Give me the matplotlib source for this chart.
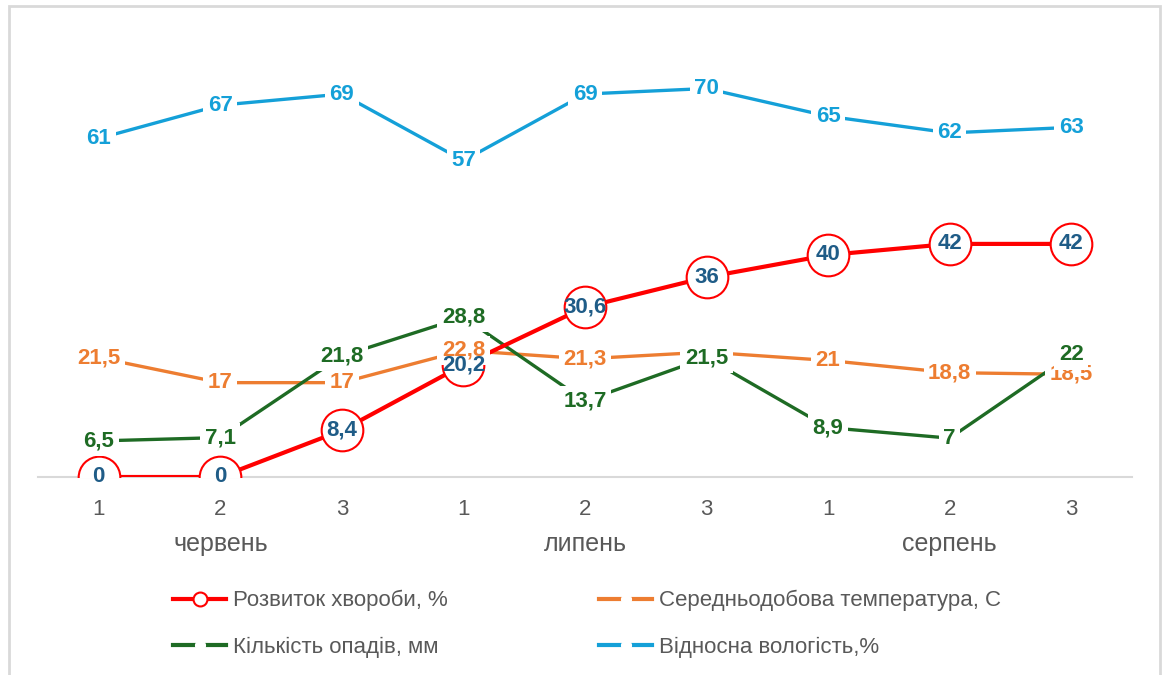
import matplotlib
matplotlib.use("Agg")
import matplotlib.pyplot as plt
from matplotlib.lines import Line2D
from matplotlib.patches import Rectangle

months = ["червень", "липень", "серпень"]
decades = ["1", "2", "3", "1", "2", "3", "1", "2", "3"]

disease = [0, 0, 8.4, 20.2, 30.6, 36, 40, 42, 42]
temperature = [21.5, 17, 17, 22.8, 21.3, 22.5, 21, 18.8, 18.5]
precipitation = [6.5, 7.1, 21.8, 28.8, 13.7, 21.5, 8.9, 7, 22]
humidity = [61, 67, 69, 57, 69, 70, 65, 62, 63]

names = [
    "Розвиток хвороби, %",
    "Середньодобова температура, С",
    "Кількість опадів, мм",
    "Відносна вологість,%",
]

RED = "#FF0000"
ORANGE = "#ED7D31"
GREEN = "#1E6B24"
BLUE = "#14A0D8"
LABEL_BLUE = "#1F5C87"
GRAY = "#595959"
LIGHT = "#D9D9D9"

plt.rcParams["font.family"] = ["Liberation Sans", "DejaVu Sans"]


def fmt(v):
    return f"{v:g}".replace(".", ",")


fig = plt.figure(figsize=(11.62, 6.75), dpi=100)
ax = fig.add_axes([38 / 1162, 198 / 675, 1094 / 1162, 444 / 675])

fig.patches.append(Rectangle((8.5 / 1162, -0.1), 1151 / 1162, 1.1 - 5.5 / 675,
                             transform=fig.transFigure, fill=False,
                             edgecolor=LIGHT, linewidth=2, zorder=0))

x = list(range(len(decades)))

ax.plot(x, disease, color=RED, lw=3, marker="o", ms=30, mfc="white",
        mec=RED, mew=1.5, zorder=3)
ax.plot(x, temperature, color=ORANGE, lw=2.4, zorder=2)
ax.plot(x, precipitation, color=GREEN, lw=2.4, zorder=2)
ax.plot(x, humidity, color=BLUE, lw=2.4, zorder=2)

LBL = 16
box = dict(boxstyle="square,pad=0.2", fc="white", ec="none")
for xi, v in zip(x, temperature):
    ax.text(xi, v, fmt(v), ha="center", va="center", color=ORANGE,
            fontsize=LBL, fontweight="bold", bbox=box, zorder=4)
for xi, v in zip(x, precipitation):
    ax.text(xi, v, fmt(v), ha="center", va="center", color=GREEN,
            fontsize=LBL, fontweight="bold", bbox=box, zorder=5)
for xi, v in zip(x, humidity):
    ax.text(xi, v, fmt(v), ha="center", va="center", color=BLUE,
            fontsize=LBL, fontweight="bold", bbox=box, zorder=5)
for xi, v in zip(x, disease):
    ax.text(xi, v, fmt(v), ha="center", va="center", color=LABEL_BLUE,
            fontsize=LBL, fontweight="bold", zorder=6)

ax.set_xlim(-0.5, len(x) - 0.5)
ax.set_ylim(0, 80)
ax.set_xticks(x)
ax.set_xticklabels(decades, fontsize=16, color=GRAY)
ax.tick_params(axis="x", length=0, pad=16)
ax.set_yticks([])
for s in ["left", "right", "top"]:
    ax.spines[s].set_visible(False)
ax.spines["bottom"].set_color(LIGHT)
ax.spines["bottom"].set_linewidth(1.5)
ax.spines["bottom"].set_zorder(1)

for i, m in enumerate(months):
    ax.text(i * 3 + 1, -0.151, m, transform=ax.get_xaxis_transform(),
            ha="center", va="center", fontsize=18, color=GRAY)

handles = [
    Line2D([], [], color=RED, lw=3, marker="o", ms=10, mfc="white", mec=RED, mew=1.5),
    Line2D([], [], color=GREEN, lw=3, marker="o", ms=7, mfc="white", mec="white"),
    Line2D([], [], color=ORANGE, lw=3, marker="o", ms=7, mfc="white", mec="white"),
    Line2D([], [], color=BLUE, lw=3, marker="o", ms=7, mfc="white", mec="white"),
]
labels = [names[0], names[2], names[1], names[3]]
fig.legend(handles, labels, ncol=2, loc="upper left",
           bbox_to_anchor=(153 / 1162, 1 - 570 / 675), frameon=False,
           fontsize=16, labelcolor=GRAY, handlelength=2.4, handletextpad=0.3,
           columnspacing=6.8, labelspacing=1.15, numpoints=1)

fig.savefig("out.png", dpi=100)
